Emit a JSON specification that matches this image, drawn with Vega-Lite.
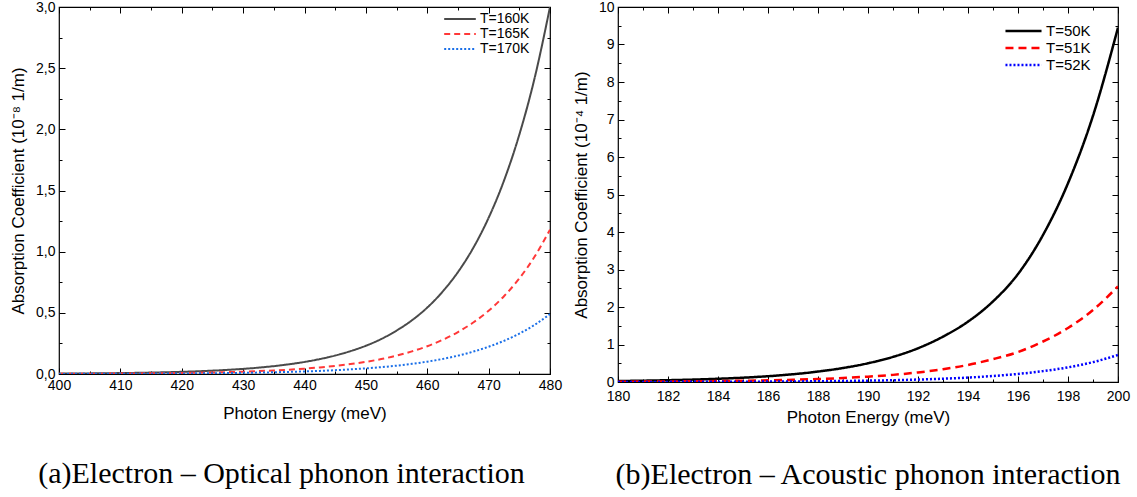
{
  "$schema": "https://vega.github.io/schema/vega-lite/v6.json",
  "padding": {"left": 8, "top": -1, "right": 5, "bottom": 0},
  "spacing": 8,
  "resolve": {"scale": {"color": "independent", "strokeDash": "independent"}, "legend": {"color": "independent", "strokeDash": "independent"}},
  "config": {
    "font": "Liberation Sans",
    "view": {"stroke": "black", "strokeWidth": 1.2},
    "axis": {"grid": false, "domain": false, "labelFlush": false, "tickColor": "black", "labelColor": "black", "titleColor": "black", "labelFont": "Liberation Sans", "titleFont": "Liberation Sans", "labelFontSize": 14, "titleFontSize": 17, "titleFontWeight": "normal"},
    "legend": {"labelFont": "Liberation Sans", "labelColor": "black"}
  },
  "datasets": {
    "a": [
      {"x": 400, "y": 0.0032, "T": "T=160K"}, {"x": 402.5, "y": 0.004, "T": "T=160K"}, {"x": 405, "y": 0.005, "T": "T=160K"}, {"x": 407.5, "y": 0.0061, "T": "T=160K"}, {"x": 410, "y": 0.0076, "T": "T=160K"}, {"x": 412.5, "y": 0.0094, "T": "T=160K"}, {"x": 415, "y": 0.0117, "T": "T=160K"}, {"x": 417.5, "y": 0.0144, "T": "T=160K"}, {"x": 420, "y": 0.0179, "T": "T=160K"}, {"x": 422.5, "y": 0.0221, "T": "T=160K"}, {"x": 425, "y": 0.0274, "T": "T=160K"}, {"x": 427.5, "y": 0.0339, "T": "T=160K"}, {"x": 430, "y": 0.0419, "T": "T=160K"}, {"x": 432.5, "y": 0.0519, "T": "T=160K"}, {"x": 435, "y": 0.0643, "T": "T=160K"}, {"x": 437.5, "y": 0.0796, "T": "T=160K"}, {"x": 440, "y": 0.0985, "T": "T=160K"}, {"x": 442.5, "y": 0.122, "T": "T=160K"}, {"x": 445, "y": 0.151, "T": "T=160K"}, {"x": 447.5, "y": 0.187, "T": "T=160K"}, {"x": 450, "y": 0.231, "T": "T=160K"}, {"x": 452.5, "y": 0.286, "T": "T=160K"}, {"x": 455, "y": 0.355, "T": "T=160K"}, {"x": 457.5, "y": 0.439, "T": "T=160K"}, {"x": 460, "y": 0.543, "T": "T=160K"}, {"x": 462.5, "y": 0.673, "T": "T=160K"}, {"x": 465, "y": 0.833, "T": "T=160K"}, {"x": 467.5, "y": 1.031, "T": "T=160K"}, {"x": 470, "y": 1.277, "T": "T=160K"}, {"x": 472.5, "y": 1.58, "T": "T=160K"}, {"x": 475, "y": 1.956, "T": "T=160K"}, {"x": 477.5, "y": 2.42, "T": "T=160K"}, {"x": 480, "y": 3.0, "T": "T=160K"},
      {"x": 400, "y": 0.0016, "T": "T=165K"}, {"x": 402.5, "y": 0.002, "T": "T=165K"}, {"x": 405, "y": 0.0024, "T": "T=165K"}, {"x": 407.5, "y": 0.003, "T": "T=165K"}, {"x": 410, "y": 0.0037, "T": "T=165K"}, {"x": 412.5, "y": 0.0045, "T": "T=165K"}, {"x": 415, "y": 0.0056, "T": "T=165K"}, {"x": 417.5, "y": 0.0068, "T": "T=165K"}, {"x": 420, "y": 0.0084, "T": "T=165K"}, {"x": 422.5, "y": 0.0103, "T": "T=165K"}, {"x": 425, "y": 0.0127, "T": "T=165K"}, {"x": 427.5, "y": 0.0156, "T": "T=165K"}, {"x": 430, "y": 0.0191, "T": "T=165K"}, {"x": 432.5, "y": 0.0235, "T": "T=165K"}, {"x": 435, "y": 0.0289, "T": "T=165K"}, {"x": 437.5, "y": 0.0355, "T": "T=165K"}, {"x": 440, "y": 0.0436, "T": "T=165K"}, {"x": 442.5, "y": 0.0536, "T": "T=165K"}, {"x": 445, "y": 0.0659, "T": "T=165K"}, {"x": 447.5, "y": 0.081, "T": "T=165K"}, {"x": 450, "y": 0.0995, "T": "T=165K"}, {"x": 452.5, "y": 0.122, "T": "T=165K"}, {"x": 455, "y": 0.15, "T": "T=165K"}, {"x": 457.5, "y": 0.185, "T": "T=165K"}, {"x": 460, "y": 0.227, "T": "T=165K"}, {"x": 462.5, "y": 0.279, "T": "T=165K"}, {"x": 465, "y": 0.343, "T": "T=165K"}, {"x": 467.5, "y": 0.421, "T": "T=165K"}, {"x": 470, "y": 0.517, "T": "T=165K"}, {"x": 472.5, "y": 0.636, "T": "T=165K"}, {"x": 475, "y": 0.781, "T": "T=165K"}, {"x": 477.5, "y": 0.96, "T": "T=165K"}, {"x": 480, "y": 1.18, "T": "T=165K"},
      {"x": 400, "y": 0.0009, "T": "T=170K"}, {"x": 402.5, "y": 0.0011, "T": "T=170K"}, {"x": 405, "y": 0.0013, "T": "T=170K"}, {"x": 407.5, "y": 0.0016, "T": "T=170K"}, {"x": 410, "y": 0.002, "T": "T=170K"}, {"x": 412.5, "y": 0.0024, "T": "T=170K"}, {"x": 415, "y": 0.0029, "T": "T=170K"}, {"x": 417.5, "y": 0.0035, "T": "T=170K"}, {"x": 420, "y": 0.0043, "T": "T=170K"}, {"x": 422.5, "y": 0.0053, "T": "T=170K"}, {"x": 425, "y": 0.0064, "T": "T=170K"}, {"x": 427.5, "y": 0.0078, "T": "T=170K"}, {"x": 430, "y": 0.0095, "T": "T=170K"}, {"x": 432.5, "y": 0.0116, "T": "T=170K"}, {"x": 435, "y": 0.0141, "T": "T=170K"}, {"x": 437.5, "y": 0.0171, "T": "T=170K"}, {"x": 440, "y": 0.0209, "T": "T=170K"}, {"x": 442.5, "y": 0.0254, "T": "T=170K"}, {"x": 445, "y": 0.031, "T": "T=170K"}, {"x": 447.5, "y": 0.0377, "T": "T=170K"}, {"x": 450, "y": 0.0459, "T": "T=170K"}, {"x": 452.5, "y": 0.0559, "T": "T=170K"}, {"x": 455, "y": 0.0681, "T": "T=170K"}, {"x": 457.5, "y": 0.083, "T": "T=170K"}, {"x": 460, "y": 0.101, "T": "T=170K"}, {"x": 462.5, "y": 0.123, "T": "T=170K"}, {"x": 465, "y": 0.15, "T": "T=170K"}, {"x": 467.5, "y": 0.183, "T": "T=170K"}, {"x": 470, "y": 0.223, "T": "T=170K"}, {"x": 472.5, "y": 0.271, "T": "T=170K"}, {"x": 475, "y": 0.33, "T": "T=170K"}, {"x": 477.5, "y": 0.402, "T": "T=170K"}, {"x": 480, "y": 0.49, "T": "T=170K"}
    ],
    "b": [
      {"x": 180, "y": 0.026, "T": "T=50K"}, {"x": 181, "y": 0.035, "T": "T=50K"}, {"x": 182, "y": 0.048, "T": "T=50K"}, {"x": 183, "y": 0.064, "T": "T=50K"}, {"x": 184, "y": 0.086, "T": "T=50K"}, {"x": 185, "y": 0.115, "T": "T=50K"}, {"x": 186, "y": 0.154, "T": "T=50K"}, {"x": 187, "y": 0.207, "T": "T=50K"}, {"x": 188, "y": 0.278, "T": "T=50K"}, {"x": 189, "y": 0.373, "T": "T=50K"}, {"x": 190, "y": 0.5, "T": "T=50K"}, {"x": 191, "y": 0.67, "T": "T=50K"}, {"x": 192, "y": 0.9, "T": "T=50K"}, {"x": 193, "y": 1.21, "T": "T=50K"}, {"x": 194, "y": 1.61, "T": "T=50K"}, {"x": 195, "y": 2.15, "T": "T=50K"}, {"x": 196, "y": 2.88, "T": "T=50K"}, {"x": 197, "y": 3.92, "T": "T=50K"}, {"x": 198, "y": 5.3, "T": "T=50K"}, {"x": 199, "y": 7.1, "T": "T=50K"}, {"x": 200, "y": 9.45, "T": "T=50K"},
      {"x": 180, "y": 0.008, "T": "T=51K"}, {"x": 181, "y": 0.011, "T": "T=51K"}, {"x": 182, "y": 0.014, "T": "T=51K"}, {"x": 183, "y": 0.019, "T": "T=51K"}, {"x": 184, "y": 0.025, "T": "T=51K"}, {"x": 185, "y": 0.034, "T": "T=51K"}, {"x": 186, "y": 0.045, "T": "T=51K"}, {"x": 187, "y": 0.06, "T": "T=51K"}, {"x": 188, "y": 0.08, "T": "T=51K"}, {"x": 189, "y": 0.107, "T": "T=51K"}, {"x": 190, "y": 0.143, "T": "T=51K"}, {"x": 191, "y": 0.19, "T": "T=51K"}, {"x": 192, "y": 0.255, "T": "T=51K"}, {"x": 193, "y": 0.34, "T": "T=51K"}, {"x": 194, "y": 0.455, "T": "T=51K"}, {"x": 195, "y": 0.61, "T": "T=51K"}, {"x": 196, "y": 0.8, "T": "T=51K"}, {"x": 197, "y": 1.08, "T": "T=51K"}, {"x": 198, "y": 1.44, "T": "T=51K"}, {"x": 199, "y": 1.92, "T": "T=51K"}, {"x": 200, "y": 2.55, "T": "T=51K"},
      {"x": 180, "y": 0.0018, "T": "T=52K"}, {"x": 181, "y": 0.0025, "T": "T=52K"}, {"x": 182, "y": 0.0033, "T": "T=52K"}, {"x": 183, "y": 0.0045, "T": "T=52K"}, {"x": 184, "y": 0.006, "T": "T=52K"}, {"x": 185, "y": 0.008, "T": "T=52K"}, {"x": 186, "y": 0.011, "T": "T=52K"}, {"x": 187, "y": 0.015, "T": "T=52K"}, {"x": 188, "y": 0.02, "T": "T=52K"}, {"x": 189, "y": 0.027, "T": "T=52K"}, {"x": 190, "y": 0.036, "T": "T=52K"}, {"x": 191, "y": 0.048, "T": "T=52K"}, {"x": 192, "y": 0.065, "T": "T=52K"}, {"x": 193, "y": 0.088, "T": "T=52K"}, {"x": 194, "y": 0.118, "T": "T=52K"}, {"x": 195, "y": 0.16, "T": "T=52K"}, {"x": 196, "y": 0.215, "T": "T=52K"}, {"x": 197, "y": 0.29, "T": "T=52K"}, {"x": 198, "y": 0.39, "T": "T=52K"}, {"x": 199, "y": 0.53, "T": "T=52K"}, {"x": 200, "y": 0.72, "T": "T=52K"}
    ]
  },
  "hconcat": [
    {
      "width": 491,
      "height": 367,
      "data": {"name": "a"},
      "title": {"text": "(a)Electron – Optical phonon interaction", "orient": "bottom", "font": "Liberation Serif", "fontSize": 30, "fontWeight": "normal", "color": "black", "offset": 38, "dx": -23},
      "layer": [
        {
          "mark": {"type": "line", "interpolate": "monotone", "strokeWidth": 2, "clip": true},
          "encoding": {
            "x": {"field": "x", "type": "quantitative", "scale": {"domain": [400, 480], "nice": false, "zero": false},
              "axis": {"orient": "bottom", "title": "Photon Energy (meV)", "values": [400,405,410,415,420,425,430,435,440,445,450,455,460,465,470,475,480], "labelExpr": "datum.value % 10 === 0 ? format(datum.value, 'd') : ''", "tickSize": {"condition": {"test": "datum.value % 10 === 0", "value": -6}, "value": -3}, "labelPadding": 10, "titlePadding": 13}},
            "y": {"field": "y", "type": "quantitative", "scale": {"domain": [0, 3], "nice": false},
              "axis": {"orient": "left", "title": "Absorption Coefficient (10⁻⁸ 1/m)", "values": [0,0.25,0.5,0.75,1,1.25,1.5,1.75,2,2.25,2.5,2.75,3], "labelExpr": "datum.value % 0.5 === 0 ? replace(format(datum.value, '.1f'), '.', ',') : ''", "tickSize": {"condition": {"test": "datum.value % 0.5 === 0", "value": -6}, "value": -3}, "labelPadding": 10, "titlePadding": 8}},
            "color": {"field": "T", "type": "nominal", "scale": {"domain": ["T=160K", "T=165K", "T=170K"], "range": ["#4a4a4a", "#ff3838", "#1a6fe8"]},
              "legend": {"title": null, "orient": "none", "legendX": 384, "legendY": 5, "padding": 0, "symbolType": "stroke", "symbolSize": 1000, "symbolStrokeWidth": 2, "labelFontSize": 14, "clipHeight": 14, "rowPadding": 1, "symbolOffset": 0, "labelOffset": 3}},
            "strokeDash": {"field": "T", "type": "nominal", "scale": {"domain": ["T=160K", "T=165K", "T=170K"], "range": [[1, 0], [6, 4], [2, 2]]},
              "legend": {"title": null, "orient": "none", "legendX": 384, "legendY": 5, "padding": 0, "symbolType": "stroke", "symbolSize": 1000, "symbolStrokeWidth": 2, "labelFontSize": 14, "clipHeight": 14, "rowPadding": 1, "symbolOffset": 0, "labelOffset": 3}}
          }
        },
        {
          "mark": {"type": "point", "opacity": 0},
          "encoding": {
            "x": {"field": "x", "type": "quantitative", "axis": {"orient": "top", "title": null, "labels": false, "values": [400,405,410,415,420,425,430,435,440,445,450,455,460,465,470,475,480], "tickSize": {"condition": {"test": "datum.value % 10 === 0", "value": -6}, "value": -3}}},
            "y": {"field": "y", "type": "quantitative", "axis": {"orient": "right", "title": null, "labels": false, "values": [0,0.25,0.5,0.75,1,1.25,1.5,1.75,2,2.25,2.5,2.75,3], "tickSize": {"condition": {"test": "datum.value % 0.5 === 0", "value": -6}, "value": -3}}}
          }
        }
      ],
      "resolve": {"axis": {"x": "independent", "y": "independent"}}
    },
    {
      "width": 500,
      "height": 375,
      "data": {"name": "b"},
      "title": {"text": "(b)Electron – Acoustic phonon interaction", "orient": "bottom", "font": "Liberation Serif", "fontSize": 30, "fontWeight": "normal", "color": "black", "offset": 35},
      "layer": [
        {
          "mark": {"type": "line", "interpolate": "monotone", "strokeWidth": 2.5, "clip": true},
          "encoding": {
            "x": {"field": "x", "type": "quantitative", "scale": {"domain": [180, 200], "nice": false, "zero": false},
              "axis": {"orient": "bottom", "title": "Photon Energy (meV)", "values": [180,181,182,183,184,185,186,187,188,189,190,191,192,193,194,195,196,197,198,199,200], "labelExpr": "datum.value % 2 === 0 ? format(datum.value, 'd') : ''", "tickSize": {"condition": {"test": "datum.value % 2 === 0", "value": -6}, "value": -3}, "labelPadding": 13, "titlePadding": 6}},
            "y": {"field": "y", "type": "quantitative", "scale": {"domain": [0, 10], "nice": false},
              "axis": {"orient": "left", "title": "Absorption Coefficient (10⁻⁴ 1/m)", "values": [0,0.5,1,1.5,2,2.5,3,3.5,4,4.5,5,5.5,6,6.5,7,7.5,8,8.5,9,9.5,10], "labelExpr": "datum.value % 1 === 0 ? format(datum.value, 'd') : ''", "tickSize": {"condition": {"test": "datum.value % 1 === 0", "value": -6}, "value": -3}, "labelPadding": 10, "titlePadding": 8}},
            "color": {"field": "T", "type": "nominal", "scale": {"domain": ["T=50K", "T=51K", "T=52K"], "range": ["#000000", "#ff0000", "#0000ff"]},
              "legend": {"title": null, "orient": "none", "legendX": 386, "legendY": 16, "padding": 0, "symbolType": "stroke", "symbolSize": 1300, "symbolStrokeWidth": 2.5, "labelFontSize": 15, "clipHeight": 16, "rowPadding": 1, "symbolOffset": 0, "labelOffset": 3}},
            "strokeDash": {"field": "T", "type": "nominal", "scale": {"domain": ["T=50K", "T=51K", "T=52K"], "range": [[1, 0], [8, 5], [2, 2]]},
              "legend": {"title": null, "orient": "none", "legendX": 386, "legendY": 16, "padding": 0, "symbolType": "stroke", "symbolSize": 1300, "symbolStrokeWidth": 2.5, "labelFontSize": 15, "clipHeight": 16, "rowPadding": 1, "symbolOffset": 0, "labelOffset": 3}}
          }
        },
        {
          "mark": {"type": "point", "opacity": 0},
          "encoding": {
            "x": {"field": "x", "type": "quantitative", "axis": {"orient": "top", "title": null, "labels": false, "values": [180,181,182,183,184,185,186,187,188,189,190,191,192,193,194,195,196,197,198,199,200], "tickSize": {"condition": {"test": "datum.value % 2 === 0", "value": -6}, "value": -3}}},
            "y": {"field": "y", "type": "quantitative", "axis": {"orient": "right", "title": null, "labels": false, "values": [0,0.5,1,1.5,2,2.5,3,3.5,4,4.5,5,5.5,6,6.5,7,7.5,8,8.5,9,9.5,10], "tickSize": {"condition": {"test": "datum.value % 1 === 0", "value": -6}, "value": -3}}}
          }
        }
      ],
      "resolve": {"axis": {"x": "independent", "y": "independent"}}
    }
  ]
}
